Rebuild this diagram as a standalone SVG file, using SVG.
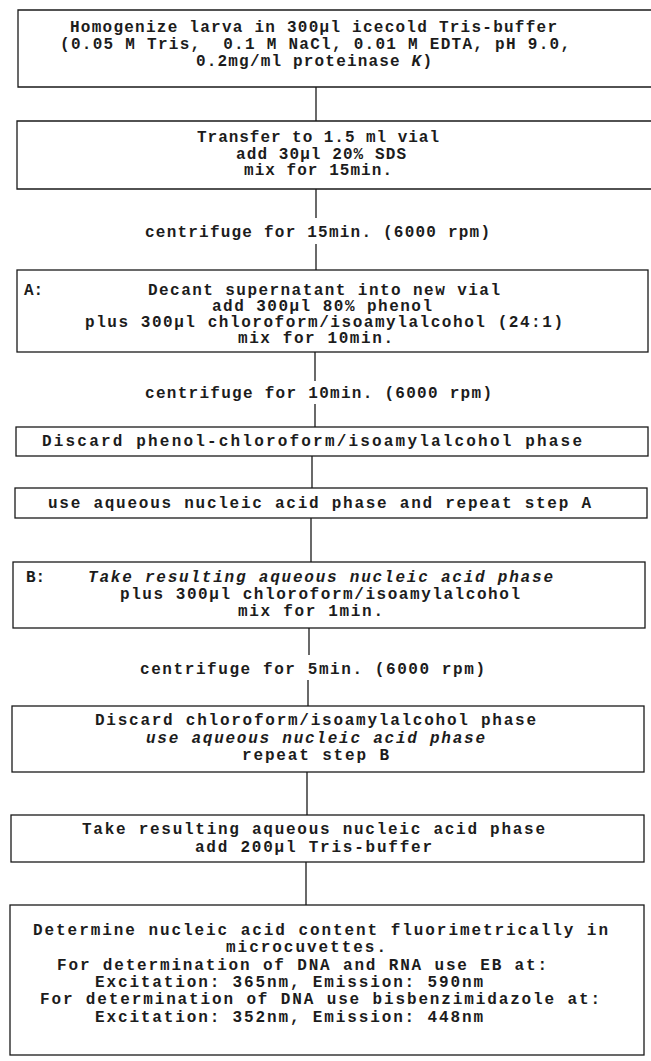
<svg xmlns="http://www.w3.org/2000/svg" width="651" height="1061" viewBox="0 0 651 1061">
<style>
.box{fill:none;stroke:#1a1a1a;stroke-width:1.3}
.ln{stroke:#1a1a1a;stroke-width:1.3;fill:none}
text{font-family:"Liberation Mono","DejaVu Sans Mono",monospace;font-size:16px;font-weight:bold;fill:#1c1c1c}
.i{font-style:italic}
</style>
<rect width="651" height="1061" fill="#fff"/>
<g id="connectors">
<line class="ln" x1="316" y1="87" x2="316" y2="121"/>
<line class="ln" x1="316" y1="189" x2="316" y2="218"/>
<line class="ln" x1="316" y1="244" x2="316" y2="270"/>
<line class="ln" x1="315" y1="352" x2="315" y2="381"/>
<line class="ln" x1="315" y1="404" x2="315" y2="427"/>
<line class="ln" x1="312" y1="456" x2="312" y2="488"/>
<line class="ln" x1="311" y1="518" x2="311" y2="562"/>
<line class="ln" x1="309" y1="628" x2="309" y2="655"/>
<line class="ln" x1="308" y1="680" x2="308" y2="706"/>
<line class="ln" x1="307" y1="772" x2="307" y2="815"/>
<line class="ln" x1="306" y1="862" x2="306" y2="905"/>
</g>
<g id="n1">
<path class="box" d="M660 10 H18 V87 H660"/>
<text x="70" y="32" textLength="487" lengthAdjust="spacing">Homogenize larva in 300µl icecold Tris-buffer</text>
<text x="60" y="49" textLength="510" lengthAdjust="spacing" xml:space="preserve">(0.05 M Tris,  0.1 M NaCl, 0.01 M EDTA, pH 9.0,</text>
<text x="196" y="66" textLength="236" lengthAdjust="spacing">0.2mg/ml proteinase <tspan class="i">K</tspan>)</text>
</g>
<g id="n2">
<path class="box" d="M660 121 H17 V189 H660"/>
<text x="197" y="142" textLength="242" lengthAdjust="spacing">Transfer to 1.5 ml vial</text>
<text x="236" y="159" textLength="170" lengthAdjust="spacing">add 30µl 20% SDS</text>
<text x="244" y="175" textLength="148" lengthAdjust="spacing">mix for 15min.</text>
</g>
<g id="c1">
<text x="145" y="237" textLength="345" lengthAdjust="spacing">centrifuge for 15min. (6000 rpm)</text>
</g>
<g id="nA">
<rect class="box" x="17" y="270" width="631" height="82"/>
<text x="24" y="295">A:</text>
<text x="148" y="295" textLength="352" lengthAdjust="spacing">Decant supernatant into new vial</text>
<text x="212" y="311" textLength="220" lengthAdjust="spacing">add 300µl 80% phenol</text>
<text x="85" y="327" textLength="478" lengthAdjust="spacing">plus 300µl chloroform/isoamylalcohol (24:1)</text>
<text x="238" y="343" textLength="155" lengthAdjust="spacing">mix for 10min.</text>
</g>
<g id="c2">
<text x="145" y="398" textLength="347" lengthAdjust="spacing">centrifuge for 10min. (6000 rpm)</text>
</g>
<g id="n3">
<rect class="box" x="16" y="427" width="632" height="29"/>
<text x="42" y="446" textLength="540" lengthAdjust="spacing">Discard phenol-chloroform/isoamylalcohol phase</text>
</g>
<g id="n4">
<rect class="box" x="15" y="488" width="632" height="30"/>
<text x="48" y="508" textLength="543" lengthAdjust="spacing">use aqueous nucleic acid phase and repeat step A</text>
</g>
<g id="nB">
<rect class="box" x="13" y="562" width="632" height="66"/>
<text x="26" y="582">B:</text>
<text class="i" x="88" y="582" textLength="465" lengthAdjust="spacing">Take resulting aqueous nucleic acid phase</text>
<text x="120" y="599" textLength="400" lengthAdjust="spacing">plus 300µl chloroform/isoamylalcohol</text>
<text x="238" y="616" textLength="145" lengthAdjust="spacing">mix for 1min.</text>
</g>
<g id="c3">
<text x="140" y="674" textLength="345" lengthAdjust="spacing">centrifuge for 5min. (6000 rpm)</text>
</g>
<g id="n5">
<rect class="box" x="12" y="706" width="632" height="66"/>
<text x="95" y="725" textLength="441" lengthAdjust="spacing">Discard chloroform/isoamylalcohol phase</text>
<text class="i" x="146" y="743" textLength="339" lengthAdjust="spacing">use aqueous nucleic acid phase</text>
<text x="242" y="760" textLength="147" lengthAdjust="spacing">repeat step B</text>
</g>
<g id="n6">
<rect class="box" x="11" y="815" width="633" height="47"/>
<text x="82" y="834" textLength="463" lengthAdjust="spacing">Take resulting aqueous nucleic acid phase</text>
<text x="195" y="852" textLength="237" lengthAdjust="spacing">add 200µl Tris-buffer</text>
</g>
<g id="n7">
<rect class="box" x="10" y="905" width="634" height="150"/>
<text x="33" y="935" textLength="575" lengthAdjust="spacing">Determine nucleic acid content fluorimetrically in</text>
<text x="226" y="952" textLength="160" lengthAdjust="spacing">microcuvettes.</text>
<text x="57" y="970" textLength="490" lengthAdjust="spacing">For determination of DNA and RNA use EB at:</text>
<text x="95" y="987" textLength="388" lengthAdjust="spacing">Excitation: 365nm, Emission: 590nm</text>
<text x="40" y="1004" textLength="560" lengthAdjust="spacing">For determination of DNA use bisbenzimidazole at:</text>
<text x="95" y="1022" textLength="388" lengthAdjust="spacing">Excitation: 352nm, Emission: 448nm</text>
</g>
</svg>
